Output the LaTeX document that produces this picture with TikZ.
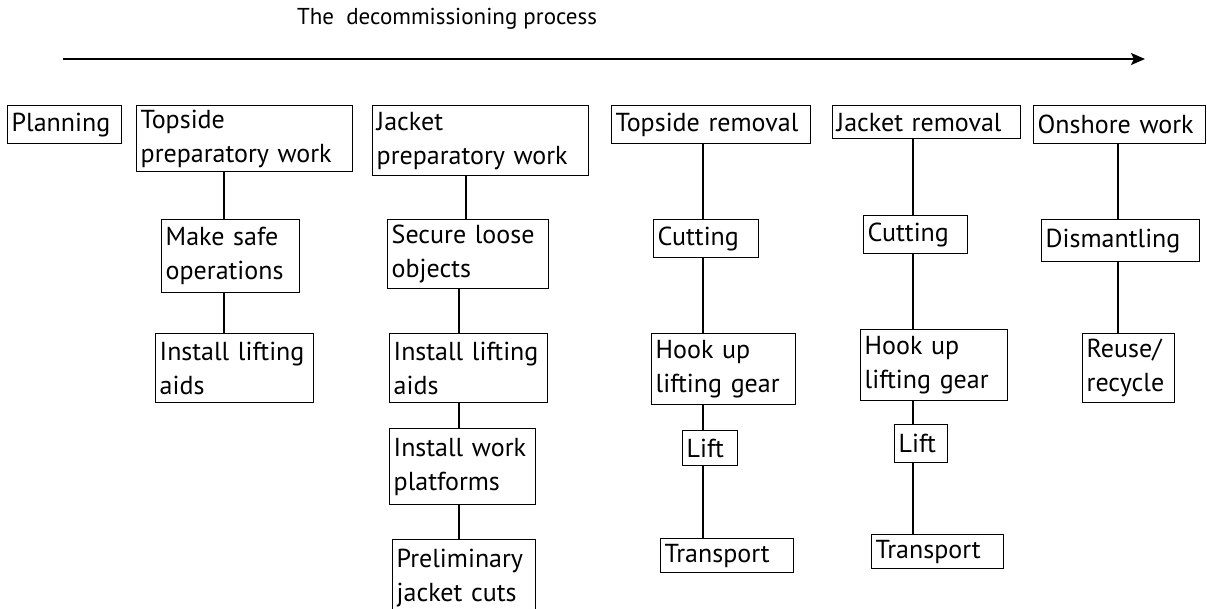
\documentclass[tikz,border=0pt]{standalone}
\usepackage{fontspec}
\setmainfont{PT Sans}
\usetikzlibrary{arrows.meta}

\tikzset{
	stage/.style={draw, line width=0.7pt, anchor=north west, align=left,
		inner xsep=2pt, inner ysep=0.5pt, font=\fontsize{13}{17}\selectfont},
	link/.style={line width=0.7pt},
}

\begin{document}
\begin{tikzpicture}[x=0.5pt,y=-0.5pt]
	\useasboundingbox (0,0) rectangle (1207,609);

	% title and time line
	\node[font=\fontsize{11.5}{13}\selectfont] (title) at (447,19) {The\ \ decommissioning process};
	\coordinate (start) at (63,59);
	\coordinate (end) at (1145,59);
	\draw[line width=0.8pt,-{Stealth[length=7pt,width=6pt,inset=1.5pt]}] (start) -- (end);

	% main stages
	\node[stage, text width=53pt, minimum height=19pt] (planning) at (7,105) {Planning};
	\node[stage, text width=104pt, minimum height=33pt] (topprep) at (136,105) {Topside\\preparatory work};
	\node[stage, text width=104pt, minimum height=35pt] (jackprep) at (372,105) {Jacket\\preparatory work};
	\node[stage, text width=95.5pt, minimum height=19pt] (toprem) at (611,105) {Topside removal};
	\node[stage, text width=90pt, minimum height=16.5pt] (jackrem) at (832,105) {Jacket removal};
	\node[stage, text width=82pt, minimum height=19pt] (onshore) at (1033,105) {Onshore work};

	% topside preparation
	\node[stage, text width=65pt, minimum height=36.5pt] (makesafe) at (161,219) {Make safe\\operations};
	\node[stage, text width=75pt, minimum height=34.5pt] (liftaidsA) at (155,333) {Install lifting\\aids};

	% jacket preparation
	\node[stage, text width=76.5pt, minimum height=34.5pt] (secure) at (387,219) {Secure loose\\objects};
	\node[stage, text width=75pt, minimum height=34.5pt] (liftaidsB) at (389,333) {Install lifting\\aids};
	\node[stage, text width=69pt, minimum height=38pt] (platforms) at (389,428) {Install work\\platforms};
	\node[stage, text width=67.5pt, minimum height=38pt] (cuts) at (392,539) {Preliminary\\jacket cuts};

	% topside removal
	\node[stage, text width=48.5pt, minimum height=19pt] (cutA) at (653,219) {Cutting};
	\node[stage, text width=68pt, minimum height=35.5pt] (hookA) at (651,333) {Hook up\\lifting gear};
	\node[stage, text width=23.5pt, minimum height=17.5pt] (liftA) at (682,430) {Lift};
	\node[stage, text width=62.5pt, minimum height=17pt] (transA) at (660,538) {Transport};

	% jacket removal
	\node[stage, text width=48pt, minimum height=19pt] (cutB) at (863,215) {Cutting};
	\node[stage, text width=69.5pt, minimum height=35.5pt] (hookB) at (860,329) {Hook up\\lifting gear};
	\node[stage, text width=22.5pt, minimum height=19pt] (liftB) at (894,424) {Lift};
	\node[stage, text width=62pt, minimum height=17pt] (transB) at (871,534) {Transport};

	% onshore work
	\node[stage, text width=75pt, minimum height=21pt] (dismantle) at (1041,219) {Dismantling};
	\node[stage, text width=42pt, minimum height=34.5pt] (reuse) at (1082,333) {Reuse/\\recycle};

	% connector columns
	\coordinate (colA) at (224,0);
	\coordinate (colB) at (466,0);
	\coordinate (colC) at (459,0);
	\coordinate (colD) at (703,0);
	\coordinate (colE) at (913,0);
	\coordinate (colF) at (1118,0);

	% connectors
	\draw[link] (topprep.south -| colA) -- (makesafe.north -| colA);
	\draw[link] (makesafe.south -| colA) -- (liftaidsA.north -| colA);

	\draw[link] (jackprep.south -| colB) -- (secure.north -| colB);
	\draw[link] (secure.south -| colC) -- (liftaidsB.north -| colC);
	\draw[link] (liftaidsB.south -| colC) -- (platforms.north -| colC);
	\draw[link] (platforms.south -| colC) -- (cuts.north -| colC);

	\draw[link] (toprem.south -| colD) -- (cutA.north -| colD);
	\draw[link] (cutA.south -| colD) -- (hookA.north -| colD);
	\draw[link] (hookA.south -| colD) -- (liftA.north -| colD);
	\draw[link] (liftA.south -| colD) -- (transA.north -| colD);

	\draw[link] (jackrem.south -| colE) -- (cutB.north -| colE);
	\draw[link] (cutB.south -| colE) -- (hookB.north -| colE);
	\draw[link] (hookB.south -| colE) -- (liftB.north -| colE);
	\draw[link] (liftB.south -| colE) -- (transB.north -| colE);

	\draw[link] (onshore.south -| colF) -- (dismantle.north -| colF);
	\draw[link] (dismantle.south -| colF) -- (reuse.north -| colF);
\end{tikzpicture}
\end{document}
